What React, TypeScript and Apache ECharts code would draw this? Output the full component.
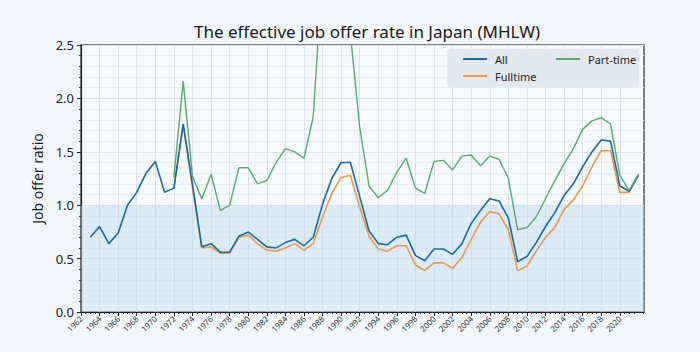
import React, { useEffect, useRef } from "react";
import * as echarts from "echarts";

const allYears: number[] = [
  1963, 1964, 1965, 1966, 1967, 1968, 1969, 1970, 1971, 1972, 1973, 1974, 1975, 1976, 1977, 1978, 1979,
  1980, 1981, 1982, 1983, 1984, 1985, 1986, 1987, 1988, 1989, 1990, 1991, 1992, 1993, 1994, 1995, 1996,
  1997, 1998, 1999, 2000, 2001, 2002, 2003, 2004, 2005, 2006, 2007, 2008, 2009, 2010, 2011, 2012, 2013,
  2014, 2015, 2016, 2017, 2018, 2019, 2020, 2021, 2022,
];
const allValues: number[] = [
  0.70, 0.80, 0.64, 0.74, 1.00, 1.12, 1.30, 1.41, 1.12, 1.16, 1.76, 1.20, 0.61, 0.64, 0.56, 0.56, 0.71,
  0.75, 0.68, 0.61, 0.60, 0.65, 0.68, 0.62, 0.70, 1.01, 1.25, 1.40, 1.40, 1.08, 0.76, 0.64, 0.63, 0.70,
  0.72, 0.53, 0.48, 0.59, 0.59, 0.54, 0.64, 0.83, 0.95, 1.06, 1.04, 0.88, 0.47, 0.52, 0.65, 0.80, 0.93,
  1.09, 1.20, 1.36, 1.50, 1.61, 1.60, 1.18, 1.13, 1.28,
];
const subYears: number[] = [
  1972, 1973, 1974, 1975, 1976, 1977, 1978, 1979, 1980, 1981, 1982, 1983, 1984, 1985, 1986, 1987, 1988,
  1989, 1990, 1991, 1992, 1993, 1994, 1995, 1996, 1997, 1998, 1999, 2000, 2001, 2002, 2003, 2004, 2005,
  2006, 2007, 2008, 2009, 2010, 2011, 2012, 2013, 2014, 2015, 2016, 2017, 2018, 2019, 2020, 2021, 2022,
];
const fulltimeValues: number[] = [
  1.17, 1.75, 1.16, 0.60, 0.61, 0.55, 0.55, 0.70, 0.72, 0.64, 0.58, 0.57, 0.60, 0.64, 0.58, 0.64, 0.89,
  1.11, 1.26, 1.28, 0.98, 0.71, 0.59, 0.57, 0.62, 0.62, 0.44, 0.39, 0.46, 0.46, 0.41, 0.51, 0.68, 0.84,
  0.94, 0.92, 0.77, 0.385, 0.43, 0.57, 0.70, 0.79, 0.96, 1.05, 1.18, 1.36, 1.51, 1.51, 1.12, 1.12, 1.29,
];
const parttimeValues: number[] = [
  1.26, 2.16, 1.27, 1.06, 1.29, 0.95, 1.00, 1.35, 1.35, 1.20, 1.23, 1.40, 1.53, 1.50, 1.44, 1.83, 3.2,
  3.4, 3.3, 2.6, 1.73, 1.18, 1.07, 1.14, 1.31, 1.44, 1.16, 1.11, 1.41, 1.42, 1.33, 1.46, 1.47, 1.37,
  1.46, 1.43, 1.25, 0.77, 0.79, 0.89, 1.06, 1.23, 1.39, 1.53, 1.71, 1.79, 1.82, 1.76, 1.28, 1.14, 1.29,
];
const xTickLabels: number[] = [
  1962, 1964, 1966, 1968, 1970, 1972, 1974, 1976, 1978, 1980, 1982, 1984, 1986, 1988, 1990, 1992, 1994,
  1996, 1998, 2000, 2002, 2004, 2006, 2008, 2010, 2012, 2014, 2016, 2018, 2020,
];
const yTicks: number[] = [0, 0.5, 1.0, 1.5, 2.0, 2.5];

const FONT = "Noto Sans";

export default function App() {
  const ref = useRef<HTMLDivElement>(null);
  useEffect(() => {
    if (!ref.current) return;
    const chart = echarts.init(ref.current, undefined, { renderer: "svg" });
    const zip = (xs: number[], ys: number[]) => xs.map((x, i) => [x, ys[i]]);
    const legendText = { fontFamily: FONT, fontSize: 11, lineHeight: 12, color: "#222", padding: [0, 0, 0, 3] };
    chart.setOption({
      animation: false,
      backgroundColor: "#f3f7fc",
      title: {
        text: "The effective job offer rate in Japan (MHLW)",
        left: 362,
        top: 18,
        textAlign: "center",
        textStyle: { fontFamily: FONT, fontSize: 17, fontWeight: "normal", color: "#1a1a1a" },
      },
      graphic: [
        {
          type: "rect",
          shape: { x: 447, y: 49, width: 192, height: 38, r: 4 },
          style: { fill: "#e4e9f1" },
          z: 10,
        },
      ],
      legend: [
        {
          data: ["All", "Fulltime"],
          orient: "vertical",
          left: 463,
          top: 53,
          padding: 0,
          itemGap: 5,
          itemWidth: 24,
          itemHeight: 2,
          icon: "rect",
          z: 11,
          textStyle: legendText,
        },
        {
          data: ["Part-time"],
          orient: "vertical",
          left: 556,
          top: 53,
          padding: 0,
          itemWidth: 24,
          itemHeight: 2,
          icon: "rect",
          z: 11,
          textStyle: legendText,
        },
      ],
      grid: {
        left: 81,
        right: 56,
        top: 45,
        bottom: 40,
        show: true,
        backgroundColor: "#f6f9fd",
        borderColor: "#555",
        borderWidth: 1.5,
      },
      xAxis: {
        type: "value",
        min: 1962,
        max: 2022.6,
        interval: 2,
        axisLine: { show: true, onZero: false, lineStyle: { color: "#222", width: 1.2 } },
        axisTick: { show: true, length: 4, lineStyle: { color: "#222" }, customValues: xTickLabels },
        minorTick: { show: true, splitNumber: 4, length: 2, lineStyle: { color: "#333" } },
        axisLabel: {
          customValues: xTickLabels,
          rotate: 45,
          fontFamily: FONT,
          fontSize: 8,
          color: "#333",
          margin: 5,
          formatter: (v: number) => String(v),
        },
        splitLine: { show: true, lineStyle: { color: "#dbe2ec", width: 1 } },
        minorSplitLine: { show: false },
      },
      yAxis: {
        type: "value",
        min: 0,
        max: 2.5,
        interval: 0.5,
        name: "Job offer ratio",
        nameLocation: "middle",
        nameGap: 37,
        nameTextStyle: { fontFamily: FONT, fontSize: 14, color: "#1a1a1a" },
        axisLine: { show: true, lineStyle: { color: "#222", width: 1.2 } },
        axisTick: { show: true, length: 4, lineStyle: { color: "#222" } },
        minorTick: { show: true, splitNumber: 5, length: 2, lineStyle: { color: "#333" } },
        axisLabel: {
          fontFamily: FONT,
          fontSize: 13,
          color: "#222",
          margin: 7,
          formatter: (v: number) => (yTicks.includes(v) ? v.toFixed(1) : ""),
        },
        splitLine: { show: true, lineStyle: { color: "#dbe2ec", width: 1 } },
        minorSplitLine: { show: true, lineStyle: { color: "#e8edf4", width: 1 } },
      },
      series: [
        {
          name: "All",
          type: "line",
          data: zip(allYears, allValues),
          symbol: "none",
          color: "#1a6aa3",
          lineStyle: { width: 1.6, color: "#1a6aa3" },
          z: 3,
          markArea: {
            silent: true,
            itemStyle: { color: "rgba(190,215,240,0.45)" },
            data: [[{ yAxis: 0 }, { yAxis: 1 }]],
          },
        },
        {
          name: "Fulltime",
          type: "line",
          data: zip(subYears, fulltimeValues),
          symbol: "none",
          color: "#ec9a4e",
          lineStyle: { width: 1.6, color: "#ec9a4e" },
          z: 2,
        },
        {
          name: "Part-time",
          type: "line",
          data: zip(subYears, parttimeValues),
          symbol: "none",
          color: "#5aab6a",
          lineStyle: { width: 1.4, color: "#5aab6a" },
          z: 3,
        },
      ],
    });
    return () => chart.dispose();
  }, []);
  return (
    <div
      ref={ref}
      style={{ position: "fixed", left: 0, top: 0, width: 700, height: 352 }}
    />
  );
}
